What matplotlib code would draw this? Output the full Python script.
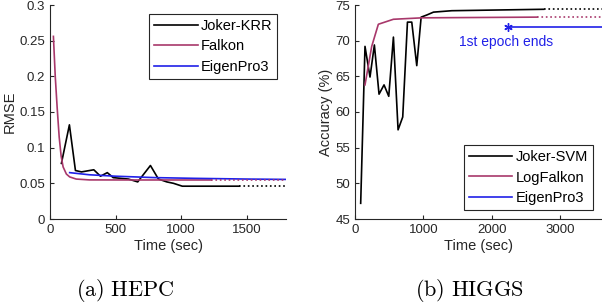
import matplotlib
matplotlib.use("Agg")
import matplotlib.pyplot as plt

plt.rcParams['font.family'] = ['Liberation Sans', 'DejaVu Sans']
plt.rcParams['mathtext.fontset'] = 'cm'

# HEPC panel data (time in sec, RMSE)
krr_t = [87, 148, 194, 240, 334, 385, 437, 482, 598, 669, 766, 827, 891, 942, 1009, 1443]
krr_v = [0.078, 0.132, 0.068, 0.066, 0.069, 0.060, 0.065, 0.058, 0.056, 0.052, 0.075, 0.056, 0.052, 0.050, 0.046, 0.046]
krr_dot_t = [1443, 1800]
krr_dot_v = [0.046, 0.046]

falkon_t = [26, 40, 55, 70, 85, 100, 125, 150, 200, 300, 600, 1230]
falkon_v = [0.256, 0.20, 0.155, 0.115, 0.088, 0.073, 0.063, 0.059, 0.056, 0.0548, 0.0547, 0.0547]
falkon_dot_t = [1230, 1800]
falkon_dot_v = [0.0547, 0.0547]

ep3a_t = [150, 300, 500, 800, 1100, 1500, 1800]
ep3a_v = [0.065, 0.062, 0.060, 0.058, 0.057, 0.056, 0.0555]

# HIGGS panel data (time in sec, accuracy %)
svm_t = [83, 146, 219, 283, 351, 424, 493, 561, 629, 697, 766, 829, 902, 966, 1049, 1146, 1414, 2756]
svm_v = [47.2, 69.2, 64.9, 69.4, 62.5, 63.8, 62.2, 70.5, 57.5, 59.3, 72.6, 72.6, 66.5, 73.3, 73.6, 74.0, 74.2, 74.4]
svm_dot_t = [2756, 3600]
svm_dot_v = [74.4, 74.4]

logf_t = [146, 244, 341, 561, 975, 2658]
logf_v = [63.8, 69.2, 72.3, 73.0, 73.2, 73.3]
logf_dot_t = [2658, 3600]
logf_dot_v = [73.3, 73.3]

ep3b_t = [2234, 3600]
ep3b_v = [71.85, 71.85]

black = '#000000'
purple = '#a8386b'
blue = '#2020e8'
grey = '#262626'

fig = plt.figure(figsize=(6.02, 3.04), dpi=100)
ax1 = fig.add_axes([50/602, 85/304, 236/602, 214/304])
ax2 = fig.add_axes([355/602, 85/304, 246.5/602, 214/304])

def style(ax):
    for s in ['top', 'right']:
        ax.spines[s].set_visible(False)
    for s in ['left', 'bottom']:
        ax.spines[s].set_color(grey)
        ax.spines[s].set_linewidth(0.8)
    ax.tick_params(direction='in', length=3, width=0.8, colors=grey, labelsize=9.5)
    ax.xaxis.label.set_color(grey)
    ax.yaxis.label.set_color(grey)

legend_kw = dict(fontsize=10.5, handlelength=3.0, frameon=True, fancybox=False,
                 edgecolor=grey, framealpha=1, borderpad=0.35, labelspacing=0.45,
                 handletextpad=0.2, borderaxespad=0.6)

# left panel
ax1.plot(krr_t, krr_v, color=black, lw=1.2, label='Joker-KRR')
ax1.plot(krr_dot_t, krr_dot_v, color=black, lw=1.2, ls=':')
ax1.plot(falkon_t, falkon_v, color=purple, lw=1.2, label='Falkon')
ax1.plot(ep3a_t, ep3a_v, color=blue, lw=1.2, label='EigenPro3')
ax1.plot(falkon_dot_t, falkon_dot_v, color=purple, lw=1.2, ls=':')
ax1.set_xlim(0, 1800)
ax1.set_ylim(0, 0.3)
ax1.set_xticks([0, 500, 1000, 1500])
ax1.set_yticks([0, 0.05, 0.1, 0.15, 0.2, 0.25, 0.3])
ax1.set_yticklabels(['0', '0.05', '0.1', '0.15', '0.2', '0.25', '0.3'])
ax1.set_xlabel('Time (sec)', fontsize=10.5, labelpad=2)
ax1.set_ylabel('RMSE', fontsize=10.5, labelpad=2)
style(ax1)
leg1 = ax1.legend(loc='upper right', **legend_kw)
leg1.get_frame().set_linewidth(0.8)

# right panel
ax2.plot(svm_t, svm_v, color=black, lw=1.2, label='Joker-SVM')
ax2.plot(svm_dot_t, svm_dot_v, color=black, lw=1.2, ls=':')
ax2.plot(logf_t, logf_v, color=purple, lw=1.2, label='LogFalkon')
ax2.plot(logf_dot_t, logf_dot_v, color=purple, lw=1.2, ls=':')
ax2.plot(ep3b_t, ep3b_v, color=blue, lw=1.2, label='EigenPro3')
ax2.plot([ep3b_t[0]], [ep3b_v[0]], color=blue, marker=(6, 2, 0), ms=6, mew=1)
ax2.text(2202, 69.8, '1st epoch ends', color=blue, fontsize=10, ha='center', va='center')
ax2.set_xlim(0, 3600)
ax2.set_ylim(45, 75)
ax2.set_xticks([0, 1000, 2000, 3000])
ax2.set_yticks([45, 50, 55, 60, 65, 70, 75])
ax2.set_xlabel('Time (sec)', fontsize=10.5, labelpad=2)
ax2.set_ylabel('Accuracy (%)', fontsize=10.5, labelpad=2)
style(ax2)
leg2 = ax2.legend(loc='lower right', **legend_kw)
leg2.get_frame().set_linewidth(0.8)

fig.text(125/602, 1 - 290/304, r'$\mathrm{(a)\ HEPC}$', fontsize=16, ha='center', va='center')
fig.text(469/602, 1 - 290/304, r'$\mathrm{(b)\ HIGGS}$', fontsize=16, ha='center', va='center')

fig.savefig('out.png', dpi=100)
